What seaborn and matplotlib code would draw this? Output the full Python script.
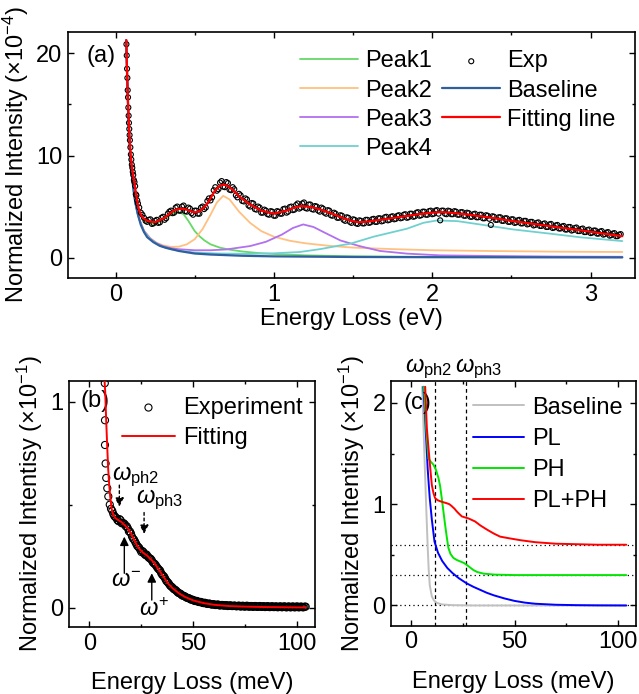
import numpy as np
import matplotlib
matplotlib.use("Agg")
import matplotlib.pyplot as plt
from matplotlib.ticker import MultipleLocator
import matplotlib.transforms as mtransforms
import seaborn as sns

# ---------------- panel (a): spectrum in eV, intensity in 1e-4 ----------------
# steep quasi-elastic part of the measured points
exp_a_steep_x = [0.069, 0.071, 0.073, 0.075, 0.077, 0.079, 0.081, 0.083, 0.085, 0.087,
                 0.089, 0.091, 0.094, 0.097, 0.100, 0.103, 0.106, 0.109, 0.112, 0.116,
                 0.120, 0.124, 0.128, 0.132, 0.137, 0.142]
exp_a_steep_y = [20.9, 19.8, 18.5, 17.6, 16.4, 15.7, 14.7, 13.9, 13.2, 12.6,
                 12.0, 11.5, 10.8, 10.1, 9.6, 9.1, 8.8, 8.4, 8.1, 7.6,
                 7.4, 7.0, 6.2, 6.1, 5.6, 5.3]
# measured points every 0.02 eV from 0.15 to 3.19 eV
exp_a_y1 = [4.9, 4.2, 3.6, 3.7, 3.3, 3.6, 3.4, 3.9, 3.7, 4.3,
            4.6, 4.4, 5.0, 4.6, 5.1, 4.5, 4.8, 4.2, 4.6, 4.3,
            5.0, 4.9, 5.8, 5.9, 6.9, 6.7, 7.5, 6.9, 7.3, 6.6,
            6.7, 5.9, 6.1, 5.5, 5.7, 5.0, 5.3, 4.7, 4.9, 4.4,
            4.6, 4.2, 4.5, 4.1, 4.5, 4.3, 4.8, 4.5, 5.0, 4.7,
            5.3, 4.9, 5.4, 4.8, 5.2, 4.7, 5.0, 4.5, 4.8, 4.3,
            4.6, 4.1, 4.3, 3.9, 4.1, 3.6, 3.9, 3.4, 3.7, 3.3,
            3.6, 3.35, 3.7, 3.45, 3.8, 3.5, 3.85, 3.6, 4.0, 3.7,
            4.05, 3.8, 4.15, 3.9, 4.25, 3.95, 4.3, 4.05, 4.45, 4.15,
            4.5, 4.2, 4.6, 4.3, 4.65, 3.65, 4.6, 4.25, 4.55, 4.25,
            4.5, 4.2, 4.45, 4.1, 4.35, 4.0, 4.3, 3.95, 4.2, 3.85,
            4.1, 3.2, 4.0, 3.7, 3.95, 3.6, 3.85, 3.5, 3.75, 3.45,
            3.7, 3.35, 3.6, 3.3, 3.5, 3.2, 3.45, 3.1, 3.35, 3.0,
            3.3, 2.95, 3.2, 2.85, 3.1, 2.75, 3.0, 2.7, 2.95, 2.6,
            2.85, 2.5, 2.75, 2.45, 2.65, 2.35, 2.6, 2.3, 2.5, 2.2,
            2.4, 2.1, 2.3]
# measured points in between, from 0.16 to 3.18 eV
exp_a_y2 = [4.4, 3.9, 3.5, 3.75, 3.35, 3.7, 3.45, 4.0, 3.85, 4.5,
            4.35, 4.9, 4.6, 5.0, 4.55, 4.9, 4.35, 4.6, 4.3, 4.9,
            4.75, 5.55, 5.6, 6.6, 6.55, 7.35, 6.95, 7.4, 6.65, 6.9,
            6.1, 6.25, 5.55, 5.8, 5.1, 5.35, 4.75, 5.0, 4.4, 4.7,
            4.25, 4.55, 4.1, 4.55, 4.3, 4.75, 4.4, 4.95, 4.65, 5.15,
            4.8, 5.3, 4.85, 5.2, 4.75, 5.05, 4.6, 4.9, 4.4, 4.65,
            4.15, 4.4, 3.9, 4.15, 3.7, 3.95, 3.5, 3.75, 3.35, 3.65,
            3.35, 3.7, 3.4, 3.75, 3.5, 3.85, 3.55, 3.95, 3.65, 4.0,
            3.75, 4.1, 3.85, 4.2, 3.9, 4.3, 4.0, 4.4, 4.1, 4.5,
            4.2, 4.55, 4.25, 4.6, 4.3, 4.6, 4.3, 4.6, 4.25, 4.55,
            4.2, 4.45, 4.1, 4.4, 4.0, 4.25, 3.95, 4.2, 3.85, 4.15,
            3.8, 4.05, 3.7, 3.95, 3.6, 3.85, 3.5, 3.75, 3.4, 3.65,
            3.35, 3.6, 3.25, 3.5, 3.15, 3.4, 3.1, 3.3, 3.0, 3.25,
            2.9, 3.15, 2.85, 3.05, 2.75, 3.0, 2.65, 2.9, 2.6, 2.8,
            2.5, 2.7, 2.4, 2.65, 2.35, 2.55, 2.25, 2.45, 2.15, 2.35,
            2.1, 2.25]
exp_a_x1 = np.linspace(0.15, 3.19, len(exp_a_y1))
exp_a_x2 = np.linspace(0.16, 3.18, len(exp_a_y2))

steep_x = [0.068, 0.072, 0.077, 0.082, 0.088, 0.095, 0.105, 0.115, 0.125, 0.14]
base_a_x = steep_x + [0.16, 0.18, 0.2, 0.24, 0.28, 0.32, 0.4, 0.5, 0.6, 0.8, 1.0, 1.5, 2.0, 2.5, 3.2]
base_a_y = [21.3, 18.6, 15.8, 13.5, 11.4, 9.6, 7.8, 6.5, 5.4, 4.3,
            3.2, 2.5, 2.0, 1.5, 1.15, 0.95, 0.65, 0.4, 0.3, 0.18, 0.12, 0.06, 0.04, 0.03, 0.02]

peak1_x = steep_x + [0.15, 0.17, 0.2, 0.23, 0.26, 0.3, 0.34, 0.37, 0.4, 0.43, 0.46, 0.5, 0.53,
                     0.56, 0.6, 0.66, 0.72, 0.8, 0.9, 1.0, 1.2, 1.5, 2.0, 2.5, 3.2]
peak1_y = [21.3, 18.6, 15.9, 13.6, 11.5, 9.8, 8.0, 6.8, 5.8, 4.9,
           4.4, 3.8, 3.45, 3.3, 3.35, 3.7, 4.1, 4.35, 4.45, 4.25, 3.6, 2.6, 2.1,
           1.7, 1.3, 0.97, 0.78, 0.6, 0.45, 0.35, 0.22, 0.13, 0.07, 0.05, 0.04]

peak2_x = steep_x + [0.15, 0.18, 0.22, 0.26, 0.3, 0.35, 0.4, 0.45, 0.5, 0.55, 0.6, 0.64, 0.68,
                     0.72, 0.78, 0.85, 0.92, 1.0, 1.1, 1.2, 1.35, 1.5, 1.75, 2.0, 2.4, 2.8, 3.2]
peak2_y = [21.3, 18.6, 15.8, 13.5, 11.4, 9.6, 7.8, 6.5, 5.4, 4.35,
           3.8, 2.65, 1.9, 1.45, 1.2, 1.05, 1.07, 1.3, 1.8, 2.8, 4.2, 5.4, 6.05,
           5.7, 4.5, 3.4, 2.6, 2.05, 1.65, 1.4, 1.15, 0.98, 0.83, 0.72, 0.64, 0.58, 0.55]

peak3_x = steep_x + [0.15, 0.18, 0.22, 0.26, 0.3, 0.35, 0.4, 0.5, 0.6, 0.7, 0.85, 0.95, 1.05,
                     1.12, 1.185, 1.25, 1.32, 1.42, 1.54, 1.67, 1.84, 2.05, 2.37, 2.8, 3.2]
peak3_y = [21.3, 18.6, 15.8, 13.5, 11.4, 9.6, 7.8, 6.5, 5.4, 4.35,
           3.75, 2.6, 1.85, 1.4, 1.12, 0.92, 0.82, 0.72, 0.72, 0.8, 1.13, 1.55, 2.25,
           2.9, 3.25, 3.0, 2.45, 1.68, 1.13, 0.65, 0.39, 0.22, 0.16, 0.1, 0.08]

peak4_x = steep_x + [0.15, 0.18, 0.22, 0.26, 0.3, 0.35, 0.4, 0.5, 0.65, 0.85, 1.0, 1.165, 1.3,
                     1.42, 1.48, 1.63, 1.84, 1.945, 2.03, 2.16, 2.3, 2.51, 2.73, 2.94, 3.2]
peak4_y = [21.3, 18.6, 15.8, 13.5, 11.4, 9.6, 7.8, 6.5, 5.4, 4.3,
           3.72, 2.55, 1.8, 1.35, 1.05, 0.82, 0.68, 0.5, 0.4, 0.37, 0.42, 0.55, 0.85,
           1.2, 1.35, 2.05, 2.83, 3.41, 3.64, 3.57, 3.25, 2.76, 2.37, 1.98, 1.62]

fit_a_x = [0.068, 0.072, 0.077, 0.082, 0.088, 0.095, 0.105, 0.113, 0.12, 0.128, 0.135, 0.145,
           0.155, 0.165, 0.18, 0.2, 0.215, 0.25, 0.3, 0.35, 0.37, 0.4, 0.43, 0.45, 0.475,
           0.5, 0.53, 0.555, 0.58, 0.605, 0.63, 0.655, 0.68, 0.7, 0.72, 0.75, 0.78, 0.85,
           0.92, 1.0, 1.08, 1.12, 1.17, 1.21, 1.25, 1.3, 1.35, 1.4, 1.45, 1.49, 1.53,
           1.565, 1.6, 1.66, 1.73, 1.79, 1.85, 1.9, 1.95, 2.0, 2.05, 2.1, 2.15, 2.22,
           2.3, 2.4, 2.5, 2.6, 2.7, 2.8, 2.9, 3.0, 3.1, 3.2]
fit_a_y = [21.3, 18.8, 16.2, 14.0, 12.0, 10.2, 8.7, 7.9, 7.3, 6.4, 5.7, 4.9,
           4.4, 4.05, 3.8, 3.62, 3.55, 3.47, 3.8, 4.4, 4.62, 4.78, 4.77, 4.7, 4.55,
           4.42, 4.55, 4.85, 5.3, 5.95, 6.6, 7.0, 7.15, 7.08, 6.9, 6.5, 6.0, 5.2,
           4.6, 4.3, 4.6, 4.85, 5.05, 5.0, 4.9, 4.68, 4.4, 4.1, 3.8, 3.6, 3.47,
           3.49, 3.55, 3.68, 3.83, 3.97, 4.1, 4.22, 4.32, 4.4, 4.45, 4.42, 4.35, 4.22,
           4.06, 3.85, 3.6, 3.38, 3.17, 2.96, 2.75, 2.53, 2.31, 2.1]

# ---------------- panel (b): low-energy part in meV (x1e-1) ----------------
exp_b_steep_x = [7.4, 7.5, 7.5, 7.8, 8.1, 8.6, 9.1, 9.8, 10.4]
exp_b_steep_y = [1.09, 0.91, 0.79, 0.70, 0.63, 0.58, 0.54, 0.50, 0.48]
# measured points every 1 meV from 11 to 104 meV
exp_b_y1 = [0.47, 0.445, 0.435, 0.42, 0.425, 0.41, 0.405, 0.395, 0.37, 0.36,
            0.335, 0.32, 0.30, 0.29, 0.27, 0.27, 0.255, 0.25, 0.24, 0.23,
            0.215, 0.205, 0.19, 0.18, 0.16, 0.15, 0.13, 0.12, 0.105, 0.097,
            0.088, 0.08, 0.071, 0.066, 0.058, 0.054, 0.048, 0.045, 0.039, 0.037,
            0.032, 0.031, 0.027, 0.026, 0.022, 0.022, 0.018, 0.019, 0.015, 0.016,
            0.013, 0.015, 0.011, 0.013, 0.01, 0.012, 0.009, 0.011, 0.008, 0.01,
            0.007, 0.01, 0.006, 0.009, 0.006, 0.009, 0.005, 0.008, 0.005, 0.008,
            0.004, 0.008, 0.004, 0.007, 0.004, 0.007, 0.003, 0.007, 0.003, 0.006,
            0.003, 0.006, 0.003, 0.006, 0.002, 0.006, 0.002, 0.006, 0.002, 0.006,
            0.002, 0.005, 0.002, 0.005]
# measured points in between, from 11.5 to 103.5 meV
exp_b_y2 = [0.455, 0.44, 0.425, 0.43, 0.41, 0.41, 0.395, 0.385, 0.37, 0.345,
            0.33, 0.31, 0.295, 0.28, 0.275, 0.26, 0.258, 0.243, 0.237, 0.22,
            0.212, 0.197, 0.185, 0.168, 0.155, 0.14, 0.125, 0.112, 0.102, 0.091,
            0.085, 0.074, 0.069, 0.06, 0.057, 0.05, 0.047, 0.041, 0.039, 0.033,
            0.033, 0.028, 0.028, 0.023, 0.024, 0.019, 0.02, 0.016, 0.017, 0.013,
            0.015, 0.011, 0.013, 0.01, 0.012, 0.008, 0.011, 0.008, 0.01, 0.007,
            0.009, 0.006, 0.009, 0.005, 0.009, 0.005, 0.008, 0.004, 0.008, 0.004,
            0.007, 0.004, 0.007, 0.003, 0.007, 0.003, 0.006, 0.003, 0.006, 0.002,
            0.006, 0.002, 0.006, 0.002, 0.005, 0.002, 0.005, 0.002, 0.005, 0.002,
            0.005, 0.002, 0.005]
exp_b_x1 = np.linspace(11, 104, len(exp_b_y1))
exp_b_x2 = np.linspace(11.5, 103.5, len(exp_b_y2))

fit_b_x = [7.3, 7.6, 8.0, 8.5, 9.0, 9.5, 10.0, 10.7, 11.5, 12.5, 14.0, 15.5, 17.0, 18.5,
           20.0, 21.5, 23.0, 24.5, 26.0, 27.5, 29.0, 30.5, 32.0, 34.0, 36.0, 38.0, 40.0,
           43.0, 46.0, 50.0, 55.0, 60.0, 67.0, 75.0, 85.0, 95.0, 104.0]
fit_b_y = [1.10, 1.05, 0.93, 0.80, 0.68, 0.60, 0.54, 0.48, 0.45, 0.435, 0.425, 0.415, 0.40, 0.385,
           0.36, 0.33, 0.30, 0.28, 0.265, 0.255, 0.24, 0.225, 0.205, 0.175, 0.145, 0.115, 0.095,
           0.07, 0.052, 0.035, 0.022, 0.014, 0.008, 0.005, 0.003, 0.002, 0.001]

# ---------------- panel (c): model curves in meV (x1e-1) ----------------
cb_x = [5.3, 5.6, 6.0, 6.4, 6.8, 7.2, 7.6, 8.0, 8.5, 9.0, 10.0, 11.0, 12.5, 15.0, 20.0, 30.0, 50.0, 104.0]
cb_y = [2.16, 2.0, 1.75, 1.5, 1.26, 1.02, 0.8, 0.58, 0.35, 0.2, 0.09, 0.05, 0.025, 0.01, 0.003, 0.0, 0.0, 0.0]

pl_x = [5.9, 6.5, 7.0, 7.5, 8.0, 8.5, 9.0, 10.0, 11.3, 13.0, 15.0, 17.5, 20.0, 23.0, 26.7,
        30.0, 33.3, 36.6, 40.0, 45.0, 50.0, 55.0, 60.0, 70.0, 80.0, 90.0, 104.0]
pl_y = [2.16, 1.95, 1.75, 1.55, 1.35, 1.2, 1.06, 0.85, 0.63, 0.52, 0.44, 0.37, 0.32, 0.27, 0.22,
        0.185, 0.155, 0.125, 0.1, 0.07, 0.045, 0.028, 0.017, 0.007, 0.003, 0.001, 0.0]

ph_x = [6.2, 6.8, 7.3, 7.8, 8.4, 9.5, 10.8, 12.0, 13.2, 14.0, 14.8, 15.6, 16.4, 17.2, 18.0,
        19.0, 20.4, 22.0, 23.7, 25.5, 26.9, 28.5, 30.1, 32.0, 34.9, 40.0, 50.0, 60.0, 80.0, 104.0]
ph_y = [2.16, 1.95, 1.75, 1.6, 1.45, 1.42, 1.39, 1.34, 1.26, 1.18, 1.06, 0.93, 0.8, 0.68, 0.57,
        0.51, 0.47, 0.45, 0.435, 0.42, 0.40, 0.375, 0.35, 0.33, 0.315, 0.305, 0.30, 0.30, 0.30, 0.30]

plph_x = [6.8, 7.2, 7.6, 8.2, 8.8, 9.4, 10.0, 10.8, 11.6, 12.8, 14.0, 15.5, 17.2, 18.5, 19.7,
          21.0, 22.0, 23.2, 24.5, 26.0, 27.7, 29.3, 30.9, 33.5, 36.6, 40.0, 43.0, 47.0, 52.7,
          60.0, 70.0, 80.0, 90.0, 104.0]
plph_y = [2.16, 1.95, 1.75, 1.6, 1.46, 1.32, 1.19, 1.11, 1.06, 1.04, 1.03, 1.02, 1.01, 1.0, 0.98,
          0.955, 0.93, 0.905, 0.88, 0.87, 0.86, 0.845, 0.83, 0.79, 0.75, 0.71, 0.68, 0.665, 0.645,
          0.625, 0.61, 0.605, 0.60, 0.60]

levels_c = [0.0, 0.3, 0.6]
phonons_c = [11.3, 26.7]

# ---------------- style ----------------
sns.set_theme(style="ticks")
plt.rcParams.update({
    "font.family": ["Liberation Sans", "DejaVu Sans"],
    "mathtext.fontset": "custom",
    "mathtext.rm": "Liberation Sans",
    "mathtext.it": "Liberation Sans:italic",
    "mathtext.bf": "Liberation Sans:bold",
    "font.size": 17,
    "axes.labelsize": 17,
    "xtick.labelsize": 17,
    "ytick.labelsize": 17,
    "legend.fontsize": 17,
    "axes.edgecolor": "black",
    "axes.linewidth": 1.2,
    "text.color": "black",
    "axes.labelcolor": "black",
    "xtick.color": "black",
    "ytick.color": "black",
})


def style_axes(ax, xmaj, xmin, ymaj, ymin):
    ax.xaxis.set_major_locator(MultipleLocator(xmaj))
    ax.xaxis.set_minor_locator(MultipleLocator(xmin))
    ax.yaxis.set_major_locator(MultipleLocator(ymaj))
    ax.yaxis.set_minor_locator(MultipleLocator(ymin))
    ax.tick_params(which="both", direction="in", top=True, right=True, width=1.0, pad=4)
    ax.tick_params(which="major", length=4.5)
    ax.tick_params(which="minor", length=2.5)


fig = plt.figure(figsize=(6.39, 6.94), dpi=100)

# ---------------- (a) ----------------
ax = fig.add_axes([0.1064, 0.5994, 0.8873, 0.3545])
peak_cols = ["#66d966", "#ffc080", "#b070f0", "#70d0d0"]
peaks = [(peak1_x, peak1_y), (peak2_x, peak2_y), (peak3_x, peak3_y), (peak4_x, peak4_y)]
for i, ((px, py), c) in enumerate(zip(peaks, peak_cols)):
    sns.lineplot(x=px, y=py, ax=ax, color=c, lw=1.3, label=f"Peak{i + 1}", zorder=2)
sns.lineplot(x=base_a_x, y=base_a_y, ax=ax, color="#2f5f9f", lw=1.6, label="Baseline", zorder=3)
exp_a_x = exp_a_steep_x + list(exp_a_x1) + list(exp_a_x2)
exp_a_y = exp_a_steep_y + exp_a_y1 + exp_a_y2
sns.scatterplot(x=exp_a_x, y=exp_a_y, ax=ax, s=13, facecolor="none", edgecolor="black",
                linewidth=0.8, label="Exp", zorder=4)
sns.lineplot(x=fit_a_x, y=fit_a_y, ax=ax, color="#ff0000", lw=1.6, label="Fitting line", zorder=5)
ax.set_xlim(-0.3, 3.28)
ax.set_ylim(-2, 22.1)
style_axes(ax, 1, 0.5, 10, 5)
ax.set_xlabel("Energy Loss (eV)", labelpad=2)
ax.set_ylabel("Normalized Intensity (×10$^{-4}$)", labelpad=4)
h, l = ax.get_legend_handles_labels()
order = ["Peak1", "Peak2", "Peak3", "Peak4", "Exp", "Baseline", "Fitting line"]
hd = dict(zip(l, h))
ax.legend([hd[k] for k in order], order, loc="upper left", bbox_to_anchor=(0.409, 0.925),
          frameon=False, borderaxespad=0, borderpad=0, ncol=2, handlelength=2.45,
          handletextpad=0.3, labelspacing=0.3, columnspacing=0.45)
ax.text(-0.18, 19.7, "(a)", va="center", ha="left")

# ---------------- (b) ----------------
ax = fig.add_axes([0.108, 0.0965, 0.385, 0.3549])
exp_b_x = exp_b_steep_x + list(exp_b_x1) + list(exp_b_x2)
exp_b_y = exp_b_steep_y + exp_b_y1 + exp_b_y2
sns.scatterplot(x=exp_b_x, y=exp_b_y, ax=ax, s=26, facecolor="none", edgecolor="black",
                linewidth=0.8, label="Experiment", zorder=3)
sns.lineplot(x=fit_b_x, y=fit_b_y, ax=ax, color="#ff0000", lw=1.4, label="Fitting", zorder=4)
ax.set_xlim(-9.8, 108.5)
ax.set_ylim(-0.094, 1.102)
style_axes(ax, 50, 25, 1, 0.5)
ax.set_xlabel("Energy Loss (meV)", labelpad=12.5)
ax.set_ylabel("Normalized Intentisy (×10$^{-1}$)", labelpad=4)
ax.legend(loc="upper left", bbox_to_anchor=(0.215, 0.935), frameon=False, borderaxespad=0,
          borderpad=0, handlelength=2.25, handletextpad=0.35, labelspacing=0.36)
ax.text(-4.3, 1.005, "(b)", va="center", ha="left")

# arrows: (tail x, tail y, head x, head y, linestyle)
arrows_b = [(14.4, 0.595, 14.4, 0.49, (0, (2, 2))), (26.3, 0.462, 26.3, 0.358, (0, (2, 2))),
            (16.8, 0.167, 16.8, 0.345, "-"), (30.0, 0.037, 30.0, 0.167, "-")]
for tx, ty, hx, hy, ls in arrows_b:
    ax.annotate("", xy=(hx, hy), xytext=(tx, ty),
                arrowprops=dict(arrowstyle="-|>", color="black", lw=1.0, linestyle=ls,
                                mutation_scale=13, shrinkA=0, shrinkB=0))
ax.text(10.8, 0.62, r"$\omega_{\rm ph2}$", ha="left", va="baseline")
ax.text(22.3, 0.508, r"$\omega_{\rm ph3}$", ha="left", va="baseline")
ax.text(17.6, 0.10, r"$\omega^{-}$", ha="center", va="baseline")
ax.text(31.0, -0.04, r"$\omega^{+}$", ha="center", va="baseline")

# ---------------- (c) ----------------
ax = fig.add_axes([0.612, 0.0984, 0.3833, 0.353])
for lev in levels_c:
    ax.axhline(lev, color="black", lw=0.9, ls=(0, (1, 2.5)), zorder=1)
for ph in phonons_c:
    ax.axvline(ph, color="black", lw=0.9, ls=(0, (3, 2.5)), zorder=1)
sns.lineplot(x=cb_x, y=cb_y, ax=ax, color="#c0c0c0", lw=1.4, label="Baseline", zorder=2)
sns.lineplot(x=pl_x, y=pl_y, ax=ax, color="#0000ff", lw=1.4, label="PL", zorder=3)
sns.lineplot(x=ph_x, y=ph_y, ax=ax, color="#00e600", lw=1.4, label="PH", zorder=3)
sns.lineplot(x=plph_x, y=plph_y, ax=ax, color="#ff0000", lw=1.4, label="PL+PH", zorder=4)
ax.set_xlim(-9.7, 108.7)
ax.set_ylim(-0.2, 2.22)
style_axes(ax, 50, 25, 1, 0.5)
ax.set_xlabel("Energy Loss (meV)", labelpad=12.5)
ax.set_ylabel("Normalized Intentisy (×10$^{-1}$)", labelpad=4)
ax.legend(loc="upper left", bbox_to_anchor=(0.336, 0.935), frameon=False, borderaxespad=0,
          borderpad=0, handlelength=2.15, handletextpad=0.35, labelspacing=0.39)
ax.text(-3.7, 2.0, "(c)", va="center", ha="left")
trans = mtransforms.blended_transform_factory(ax.transData, ax.transAxes)
ax.text(-2.9, 1.037, r"$\omega_{\rm ph2}$", transform=trans, ha="left", va="baseline")
ax.text(21.3, 1.037, r"$\omega_{\rm ph3}$", transform=trans, ha="left", va="baseline")

fig.savefig("out.png", dpi=100)
